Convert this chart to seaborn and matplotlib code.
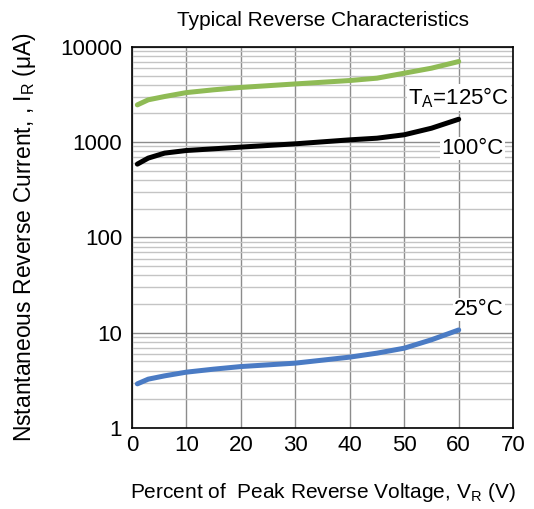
import matplotlib
matplotlib.use("Agg")
import matplotlib.pyplot as plt
import numpy as np
import pandas as pd
import seaborn as sns

voltage_pct = [1, 3, 6, 10, 15, 20, 30, 40, 45, 50, 55, 60]
ir_125c = [2460, 2780, 3010, 3310, 3540, 3750, 4080, 4430, 4690, 5290, 5970, 7010]
ir_100c = [588, 680, 767, 817, 851, 887, 960, 1057, 1100, 1195, 1400, 1740]
ir_25c = [2.91, 3.26, 3.53, 3.86, 4.15, 4.42, 4.80, 5.55, 6.11, 6.89, 8.44, 10.7]
temps = ["125°C", "100°C", "25°C"]
colors = ["#8fbb55", "#000000", "#4a7bc4"]

sns.set_style("white")
plt.rcParams['font.family'] = ['Liberation Sans', 'DejaVu Sans']
plt.rcParams['text.color'] = 'black'
plt.rcParams['axes.labelcolor'] = 'black'
plt.rcParams['xtick.color'] = 'black'
plt.rcParams['ytick.color'] = 'black'

df = pd.DataFrame({
    "v": voltage_pct * 3,
    "ir": ir_125c + ir_100c + ir_25c,
    "temp": np.repeat(temps, len(voltage_pct)),
})

fig = plt.figure(figsize=(5.34, 5.09), dpi=100)
ax = fig.add_axes([0.247, 0.159, 0.714, 0.749])
sns.lineplot(data=df, x="v", y="ir", hue="temp", palette=dict(zip(temps, colors)),
             linewidth=3.6, legend=False, ax=ax)
for ln in ax.lines:
    ln.set_solid_capstyle("round")
    ln.set_solid_joinstyle("round")
ax.set_yscale("log")
ax.set_xlim(0, 70)
ax.set_ylim(1, 10000)
ax.set_xticks(range(0, 71, 10))
ax.set_yticks([1, 10, 100, 1000, 10000])
ax.set_yticklabels(["1", "10", "100", "1000", "10000"])
ax.yaxis.set_minor_locator(matplotlib.ticker.LogLocator(base=10, subs=np.arange(2, 10)))
ax.yaxis.set_minor_formatter(matplotlib.ticker.NullFormatter())
ax.grid(True, which="major", color="#8c8c8c", linewidth=1.0)
ax.grid(True, which="minor", axis="y", color="#c4c4c4", linewidth=1.0)
ax.tick_params(which="both", length=0, labelsize=16)
ax.tick_params(axis="y", pad=7)
ax.tick_params(axis="x", pad=5)
for s in ax.spines.values():
    s.set_color("black")
    s.set_linewidth(1.2)

ax.set_title("Typical Reverse Characteristics", fontsize=15, pad=15)
ax.set_xlabel("Percent of  Peak Reverse Voltage, V$_\\mathregular{R}$ (V)", fontsize=15, labelpad=18)
ax.set_ylabel("Nstantaneous Reverse Current, , I$_\\mathregular{R}$ (μA)", fontsize=16.5, labelpad=16)

box = dict(facecolor="white", edgecolor="none", pad=1)
ax.text(69.3, 2950, "T$_\\mathregular{A}$=125°C", fontsize=16, ha="right", va="center", bbox=box)
ax.text(68.3, 860, "100°C", fontsize=16, ha="right", va="center", bbox=box)
ax.text(68.3, 17.5, "25°C", fontsize=16, ha="right", va="center", bbox=box)

fig.savefig("out.png", dpi=100)
